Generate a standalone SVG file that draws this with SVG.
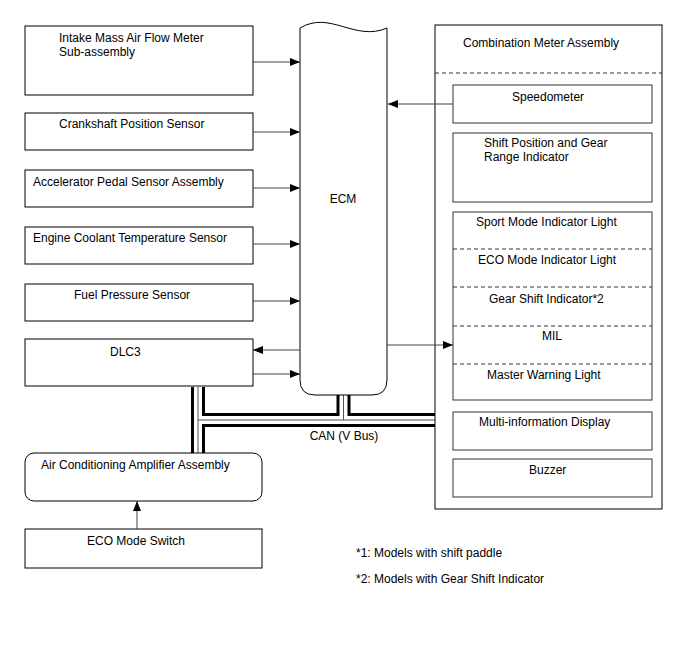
<svg xmlns="http://www.w3.org/2000/svg" width="688" height="658" viewBox="0 0 688 658">
<style>
text{font-family:"Liberation Sans",Arial,sans-serif;font-size:12px;fill:#000}
.box{fill:#fff;stroke:#000;stroke-width:1}
.ibox{fill:#fff;stroke:#333;stroke-width:1}
.dash{stroke:#333;stroke-width:1;stroke-dasharray:4,3;fill:none}
.ln{stroke:#444;stroke-width:1;fill:none;marker-end:url(#ah)}
.busA{stroke:#000;stroke-width:14;fill:none}
.busB{stroke:#fff;stroke-width:8;fill:none}
.busC{stroke:#555;stroke-width:1;fill:none}
.mid{text-anchor:middle}
</style>
<defs>
<marker id="ah" viewBox="0 0 10 8" refX="10" refY="4" markerWidth="10" markerHeight="8" markerUnits="userSpaceOnUse" orient="auto">
<path d="M0,0 L10,4 L0,8 Z" fill="#000"/>
</marker>
</defs>
<rect width="688" height="658" fill="#fff"/>

<g id="can-bus">
<path class="busA" d="M198,387 V453 M198,420 H435 M343.5,395 V420"/>
<path class="busB" d="M198,387 V453 M198,420 H435 M343.5,395 V420"/>
<path class="busC" d="M198,387 V453 M198,420 H435 M343.5,395 V420"/>
</g>

<g id="ecm">
<path class="box" d="M300,28 C330,10 355,42 387,28 L387,380 Q387,395 372,395 L315,395 Q300,395 300,380 Z"/>
<text x="343" y="203" class="mid">ECM</text>
</g>

<g id="intake">
<rect class="box" x="25" y="26" width="228" height="69"/>
<text x="59" y="42">Intake Mass Air Flow Meter</text>
<text x="59" y="56">Sub-assembly</text>
</g>
<g id="crank">
<rect class="box" x="25" y="113" width="228" height="37"/>
<text x="59" y="128">Crankshaft Position Sensor</text>
</g>
<g id="accel">
<rect class="box" x="25" y="170" width="228" height="37"/>
<text x="33" y="186">Accelerator Pedal Sensor Assembly</text>
</g>
<g id="coolant">
<rect class="box" x="25" y="227" width="228" height="37"/>
<text x="33" y="242">Engine Coolant Temperature Sensor</text>
</g>
<g id="fuel">
<rect class="box" x="25" y="284" width="228" height="37"/>
<text x="74" y="299">Fuel Pressure Sensor</text>
</g>
<g id="dlc3">
<rect class="box" x="25" y="339" width="228" height="47"/>
<text x="110" y="356">DLC3</text>
</g>

<g id="ac-amp">
<rect class="box" x="25" y="453" width="237" height="48" rx="9" ry="9"/>
<text x="41" y="469">Air Conditioning Amplifier Assembly</text>
</g>
<g id="eco-switch">
<rect class="box" x="25" y="529" width="237" height="39"/>
<text x="87" y="545">ECO Mode Switch</text>
</g>

<g id="combo-meter">
<rect class="box" x="435" y="25" width="227" height="484"/>
<text x="463" y="47">Combination Meter Assembly</text>
<line class="dash" x1="435" y1="73" x2="662" y2="73"/>
</g>
<g id="speedo">
<rect class="ibox" x="453" y="85" width="199" height="38"/>
<text x="512" y="101">Speedometer</text>
</g>
<g id="shift-pos">
<rect class="ibox" x="453" y="133" width="199" height="69"/>
<text x="484" y="147">Shift Position and Gear</text>
<text x="484" y="161">Range Indicator</text>
</g>
<g id="indicators">
<rect class="ibox" x="453" y="212" width="199" height="188"/>
<line class="dash" x1="453" y1="249" x2="652" y2="249"/>
<line class="dash" x1="453" y1="287" x2="652" y2="287"/>
<line class="dash" x1="453" y1="326" x2="652" y2="326"/>
<line class="dash" x1="453" y1="364" x2="652" y2="364"/>
<text x="476" y="226">Sport Mode Indicator Light</text>
<text x="478" y="264">ECO Mode Indicator Light</text>
<text x="489" y="303">Gear Shift Indicator*2</text>
<text x="542" y="340">MIL</text>
<text x="487" y="379">Master Warning Light</text>
</g>
<g id="mid">
<rect class="ibox" x="453" y="412" width="199" height="38"/>
<text x="479" y="426">Multi-information Display</text>
</g>
<g id="buzzer">
<rect class="ibox" x="453" y="459" width="199" height="38"/>
<text x="529" y="474">Buzzer</text>
</g>

<g id="connectors">
<line class="ln" x1="253" y1="62" x2="300" y2="62"/>
<line class="ln" x1="253" y1="132" x2="300" y2="132"/>
<line class="ln" x1="253" y1="188" x2="300" y2="188"/>
<line class="ln" x1="253" y1="244" x2="300" y2="244"/>
<line class="ln" x1="253" y1="301" x2="300" y2="301"/>
<line class="ln" x1="300" y1="350" x2="253" y2="350"/>
<line class="ln" x1="253" y1="374" x2="300" y2="374"/>
<line class="ln" x1="453" y1="104" x2="388" y2="104"/>
<line class="ln" x1="387" y1="345" x2="453" y2="345"/>
<line class="ln" x1="137" y1="529" x2="137" y2="501"/>
</g>

<g id="labels">
<text x="344" y="440" class="mid">CAN (V Bus)</text>
<text x="356" y="557">*1: Models with shift paddle</text>
<text x="356" y="583">*2: Models with Gear Shift Indicator</text>
</g>
</svg>
